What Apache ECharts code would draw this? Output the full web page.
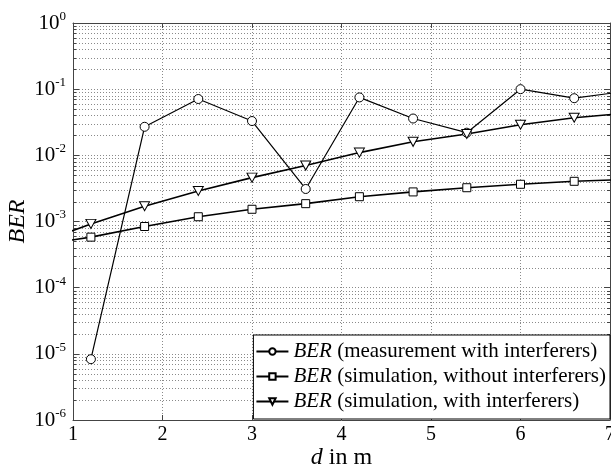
<!DOCTYPE html>
<html>
<head>
<meta charset="utf-8">
<script src="https://cdn.jsdelivr.net/npm/echarts@6/dist/echarts.min.js"></script>
<style>
  html, body { margin: 0; padding: 0; background: #fff; }
  #chart { width: 611px; height: 469px; }
</style>
</head>
<body>
<div id="chart"></div>
<script>
// 测量数据 (x = 7.2 的点在坐标区外, 只用来画出到右边界的线段)
const measX = [1.2, 1.8, 2.4, 3.0, 3.6, 4.2, 4.8, 5.4, 6.0, 6.6, 7.2];
const measBer = [8.3e-6, 0.027, 0.071, 0.033, 0.0031, 0.075, 0.036, 0.022, 0.10, 0.073, 0.094];

// 仿真数据 (0.8 和 7.2 在坐标区外)
const simX = [0.8, 1.2, 1.8, 2.4, 3.0, 3.6, 4.2, 4.8, 5.4, 6.0, 6.6, 7.2];
const simNoIntf = [4.8e-4, 5.8e-4, 8.4e-4, 1.18e-3, 1.53e-3, 1.86e-3, 2.37e-3, 2.8e-3, 3.24e-3, 3.65e-3, 4.05e-3, 4.34e-3];
const simIntf = [5.8e-4, 9.2e-4, 1.7e-3, 2.9e-3, 4.6e-3, 7.0e-3, 0.011, 0.016, 0.021, 0.029, 0.037, 0.0435];

const legendNames = ['meas', 'simNo', 'simWith'];
const legendTexts = {
    meas: ' (measurement with interferers)',
    simNo: ' (simulation, without interferers)',
    simWith: ' (simulation, with interferers)'
};

const FONT = '"Liberation Serif", "DejaVu Serif", serif';

function pairs(xs, ys) {
    return xs.map(function(x, i) { return [x, ys[i]]; });
}

// 次网格线 2..9 × 10^k
let minorValues = [];
for (let k = -6; k < 0; k++) {
    for (let m = 2; m <= 9; m++) {
        minorValues.push([1, m * Math.pow(10, k)]);
    }
}

const gridStyle = { color: '#8a8a8a', type: [1, 2], width: 1 };
const axisLineStyle = { color: '#444', width: 1 };

// 画次网格线和左右两边的小刻度
function renderMinor(params, api) {
    const v = api.value(1);
    const p0 = api.coord([1, v]);
    const p1 = api.coord([7, v]);
    const y = Math.round(p0[1]) + 0.5;
    return {
        type: 'group',
        children: [
            { type: 'line', shape: { x1: p0[0], y1: y, x2: p1[0], y2: y },
              style: { stroke: gridStyle.color, lineWidth: 1, lineDash: [1, 2] } },
            { type: 'line', shape: { x1: p0[0], y1: y, x2: p0[0] + 3, y2: y },
              style: { stroke: axisLineStyle.color, lineWidth: 1 } },
            { type: 'line', shape: { x1: p1[0] - 3, y1: y, x2: p1[0], y2: y },
              style: { stroke: axisLineStyle.color, lineWidth: 1 } }
        ]
    };
}

let chart = echarts.init(document.getElementById('chart'));
chart.setOption({
    animation: false,
    backgroundColor: '#fff',
    grid: { left: 73, right: 1, top: 23, bottom: 49, containLabel: false, outerBoundsMode: 'none' },
    legend: {
        data: legendNames,
        orient: 'vertical',
        right: 1,
        bottom: 50,
        itemWidth: 32,
        itemHeight: 8,
        itemGap: 4,
        padding: [6, 4, 7, 2],
        borderColor: '#000',
        borderWidth: 1,
        borderRadius: 0,
        backgroundColor: '#fff',
        textStyle: {
            fontFamily: FONT, fontSize: 21, color: '#000', lineHeight: 21,
            rich: { i: { fontStyle: 'italic', fontFamily: FONT, fontSize: 21, color: '#000' } }
        },
        formatter: function(name) { return '{i|BER}' + legendTexts[name]; }
    },
    xAxis: [{
        type: 'value', min: 1, max: 7, interval: 1,
        name: '{i|d} in m',
        nameLocation: 'middle',
        nameGap: 26,
        nameMoveOverlap: false,
        nameTextStyle: {
            fontFamily: FONT, fontSize: 24, color: '#000',
            rich: { i: { fontStyle: 'italic', fontFamily: FONT, fontSize: 24, color: '#000' } }
        },
        axisLine: { show: true, onZero: false, lineStyle: axisLineStyle },
        axisTick: { show: true, inside: true, length: 5, lineStyle: axisLineStyle },
        axisLabel: { fontFamily: FONT, fontSize: 20, color: '#000', margin: 5, showMinLabel: true, showMaxLabel: true },
        splitLine: { show: true, lineStyle: gridStyle }
    }, {
        type: 'value', min: 1, max: 7, interval: 1, position: 'top',
        axisLine: { show: true, onZero: false, lineStyle: axisLineStyle },
        axisTick: { show: true, inside: true, length: 5, lineStyle: axisLineStyle },
        axisLabel: { show: false },
        splitLine: { show: false }
    }],
    yAxis: [{
        type: 'log', min: 1e-6, max: 1, logBase: 10,
        name: 'BER',
        nameLocation: 'middle',
        nameGap: 43,
        nameMoveOverlap: false,
        nameTextStyle: { fontFamily: FONT, fontSize: 24, fontStyle: 'italic', color: '#000' },
        axisLine: { show: true, onZero: false, lineStyle: axisLineStyle },
        axisTick: { show: true, inside: true, length: 6, lineStyle: axisLineStyle },
        axisLabel: {
            margin: 7,
            formatter: function(v) {
                const e = Math.round(Math.log10(v));
                return '{b|10}{s|' + e + '}';
            },
            rich: {
                b: { fontFamily: FONT, fontSize: 21, color: '#000' },
                s: { fontFamily: FONT, fontSize: 13, color: '#000', padding: [0, 0, 13, 0] }
            }
        },
        splitLine: { show: true, lineStyle: gridStyle }
    }, {
        type: 'log', min: 1e-6, max: 1, logBase: 10, position: 'right',
        axisLine: { show: true, onZero: false, lineStyle: axisLineStyle },
        axisTick: { show: true, inside: true, length: 6, lineStyle: axisLineStyle },
        axisLabel: { show: false },
        splitLine: { show: false }
    }],
    series: [
        {
            name: 'minorGrid',
            type: 'custom',
            z: 1,
            silent: true,
            renderItem: renderMinor,
            data: minorValues
        },
        {
            name: 'meas',
            type: 'line',
            z: 3,
            data: pairs(measX, measBer),
            symbol: 'circle',
            symbolSize: 9,
            showAllSymbol: true,
            itemStyle: { color: '#fff', borderColor: '#000', borderWidth: 1 },
            lineStyle: { color: '#000', width: 1.2 }
        },
        {
            name: 'simNo',
            type: 'line',
            z: 3,
            data: pairs(simX, simNoIntf),
            symbol: 'rect',
            symbolSize: 8,
            showAllSymbol: true,
            itemStyle: { color: '#fff', borderColor: '#000', borderWidth: 1 },
            lineStyle: { color: '#000', width: 1.6 }
        },
        {
            name: 'simWith',
            type: 'line',
            z: 3,
            data: pairs(simX, simIntf),
            symbol: 'path://M0,0L10,0L5,9Z',
            symbolSize: [10, 9],
            showAllSymbol: true,
            itemStyle: { color: '#fff', borderColor: '#000', borderWidth: 1 },
            lineStyle: { color: '#000', width: 1.6 }
        }
    ]
});
</script>
</body>
</html>
